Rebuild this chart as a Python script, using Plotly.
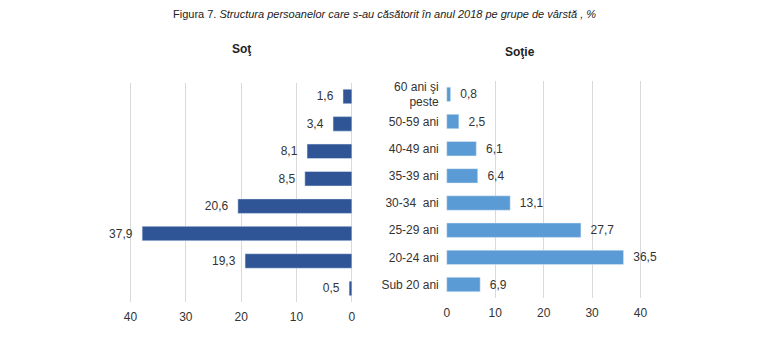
import plotly.graph_objects as go

categories = ["60 ani şi<br>peste", "50-59 ani", "40-49 ani", "35-39 ani",
              "30-34  ani", "25-29 ani", "20-24 ani", "Sub 20 ani"]
sot = [1.6, 3.4, 8.1, 8.5, 20.6, 37.9, 19.3, 0.5]
sotie = [0.8, 2.5, 6.1, 6.4, 13.1, 27.7, 36.5, 6.9]
tickvals_x = [0, 10, 20, 30, 40]

def fmt(v):
    return f"{v:.1f}".replace(".", ",")

W, H = 770, 337
def px(x):
    return x / W
def py(y):
    return 1 - y / H

NB = "\u00a0"
font = "Liberation Sans, Arial, sans-serif"
fig = go.Figure()
fig.add_trace(go.Bar(
    y=categories, x=sot, orientation="h", xaxis="x", yaxis="y",
    marker_color="#2F5597", text=[fmt(v) + NB * 2 for v in sot],
    textposition="outside", textfont=dict(size=12, color="#333"),
    cliponaxis=False, hoverinfo="x+y"))
fig.add_trace(go.Bar(
    y=categories, x=sotie, orientation="h", xaxis="x2", yaxis="y2",
    marker_color="#5B9BD5", text=[NB * 2 + fmt(v) for v in sotie],
    textposition="outside", textfont=dict(size=12, color="#333"),
    cliponaxis=False, hoverinfo="x+y"))

grid = "#d9d9d9"
fig.update_layout(
    width=W, height=H, margin=dict(l=0, r=0, t=0, b=0),
    paper_bgcolor="white", plot_bgcolor="white",
    showlegend=False, bargap=0.47,
    font=dict(family=font, size=12, color="#333"),
    xaxis=dict(domain=[px(125.2), px(353.1)], range=[40.5, -0.2], tickvals=tickvals_x,
               showgrid=True, gridcolor=grid, zeroline=False, showline=False,
               anchor="y", tickfont=dict(size=12), ticks="", ticklabelstandoff=6),
    yaxis=dict(domain=[py(302), py(82)], categoryorder="array",
               categoryarray=categories[::-1], showticklabels=False,
               showgrid=False, zeroline=False, anchor="x"),
    xaxis2=dict(domain=[px(447), px(646.5)], range=[-0.2, 40.5], tickvals=tickvals_x,
                showgrid=True, gridcolor=grid, zeroline=False, showline=False,
                anchor="y2", tickfont=dict(size=12), ticks="", ticklabelstandoff=6),
    yaxis2=dict(domain=[py(298), py(80)], categoryorder="array",
                categoryarray=categories[::-1], showticklabels=True,
                showgrid=False, zeroline=False, anchor="x2",
                tickfont=dict(size=12), ticks="", ticklabelstandoff=6),
    annotations=[
        dict(text="Figura 7. <i>Structura persoanelor care s-au căsătorit în anul 2018 pe grupe de vârstă , %</i>",
             x=px(385), y=py(13), xref="paper", yref="paper", showarrow=False,
             font=dict(size=11, color="#222"), xanchor="center", yanchor="middle"),
        dict(text="<b>Soţ</b>", x=px(240), y=py(48), xref="paper", yref="paper",
             showarrow=False, font=dict(size=12, color="#222"), xanchor="center", yanchor="middle"),
        dict(text="<b>Soţie</b>", x=px(522), y=py(51), xref="paper", yref="paper",
             showarrow=False, font=dict(size=12, color="#222"), xanchor="center", yanchor="middle"),
    ],
)
fig.write_html("out.html")
